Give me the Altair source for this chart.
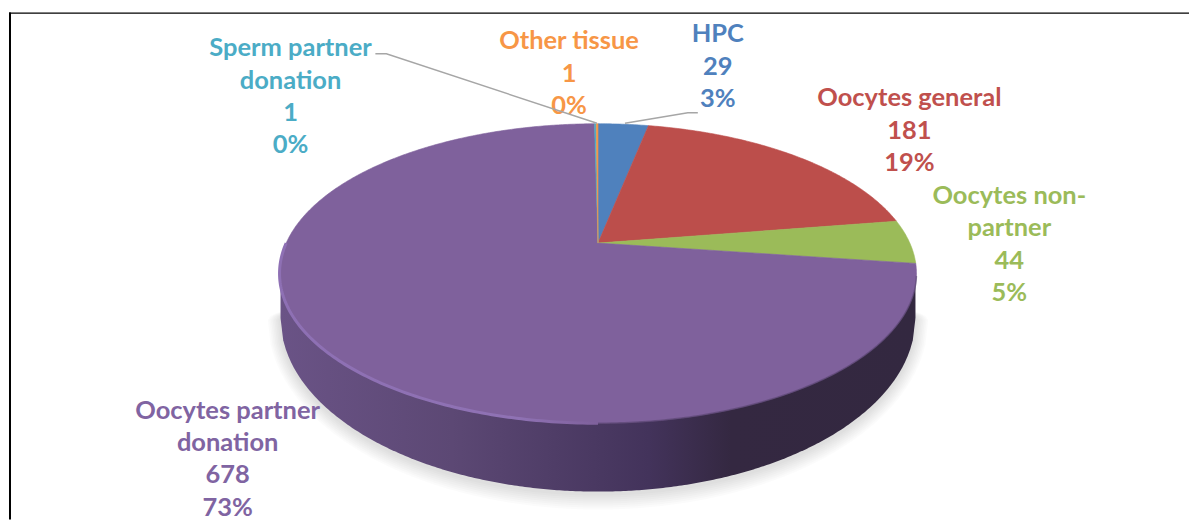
import numpy as np
import pandas as pd
import altair as alt

# ---- chart values
categories = ["HPC", "Oocytes general", "Oocytes non-partner", "Oocytes partner donation",
              "Sperm partner donation", "Other tissue"]
values = [29, 181, 44, 678, 1, 1]
slice_colors = ["#4F81BD", "#BC4E4B", "#9BBB59", "#7F619C", "#4BACC6", "#F79646"]
label_colors = ["#4F81BD", "#C0504D", "#9BBB59", "#8064A2", "#4BACC6", "#F79646"]
label_names = [["HPC"], ["Oocytes general"], ["Oocytes non-", "partner"],
               ["Oocytes partner", "donation"], ["Sperm partner", "donation"], ["Other tissue"]]

# ---- layout (in page pixels)
W, H, M = 1182, 512, 8
CX, CY, RX, RY, PERSP = 598.0, 273.5, 319.0, 150.0, 0.203
BY, BRX, BRY = 318.0, 318.0, 174.0
label_x = [718, 910, 1010, 227, 290, 569]
label_y = [34, 98, 196, 411, 48, 41]
LINE_H = 32.4
FONT = "Lato"
FONT_SIZE = 25.5

xs = alt.Scale(domain=[M, M + W], range=[0, W])
ys = alt.Scale(domain=[M, M + H], range=[0, H])
X = lambda f="x": alt.X(f"{f}:Q", scale=xs, axis=None)
Y = lambda f="y": alt.Y(f"{f}:Q", scale=ys, axis=None)
Y2 = lambda f="y2": alt.Y2(f"{f}:Q")


def project(turn):
    """Position on the tilted disc's rim for a clockwise fraction of a turn from the top."""
    a = 2 * np.pi * np.asarray(turn, dtype=float)
    u, v = np.sin(a), np.cos(a)
    w = 1 + PERSP * v
    return (CX + RX * u * np.sqrt(1 - PERSP ** 2) / w,
            CY - RY * (v + PERSP) / w)


total = sum(values)
edges = np.cumsum([0] + values) / total
apex = (CX, CY - RY * PERSP)

layers = []


def lens(cy, rx, ry, cap, n=240):
    x = np.linspace(CX - rx, CX + rx, n)
    s = np.sqrt(np.clip(1 - ((x - CX) / rx) ** 2, 0, 1))
    return pd.DataFrame({"x": x, "y": cy - cap * s, "y2": cy + ry * s})


# soft shadow under the disc
for grow in [2, 4, 6, 8, 10, 12, 14, 16]:
    layers.append(
        alt.Chart(lens(BY + 2, BRX + grow * 0.8, BRY + grow, 30))
        .mark_area(color="#000000", opacity=0.016)
        .encode(x=X(), y=Y(), y2=Y2())
    )

# disc wall
wall_fill = alt.Gradient(
    gradient="linear", x1=0, y1=0, x2=1, y2=0,
    stops=[
        alt.GradientStop(offset=0.0, color="#6A5386"),
        alt.GradientStop(offset=0.27, color="#5C4874"),
        alt.GradientStop(offset=0.58, color="#43335B"),
        alt.GradientStop(offset=0.71, color="#342841"),
        alt.GradientStop(offset=1.0, color="#332840"),
    ],
)
wall = lens(BY, BRX, BRY, 0)
wall["y"] = CY
layers.append(
    alt.Chart(wall).mark_area(fill=wall_fill)
    .encode(x=X(), y=Y(), y2=Y2())
)

# disc top: one wedge per category
for i, cat in enumerate(categories):
    t = np.linspace(edges[i], edges[i + 1], max(3, int(values[i] / total * 720)))
    px, py = project(t)
    d = pd.DataFrame({
        "x": np.r_[apex[0], px, apex[0]],
        "y": np.r_[apex[1], py, apex[1]],
        "i": np.arange(len(px) + 2),
        "category": cat,
    })
    layers.append(
        alt.Chart(d)
        .mark_line(fill=slice_colors[i], stroke=slice_colors[i], strokeWidth=0.6, interpolate="linear")
        .encode(x=X(), y=Y(), order=alt.Order("i:Q"))
    )

# lit rim along the purple wedge
t = np.linspace(0.5, 0.75, 120)
px, py = project(t)
rim = pd.DataFrame({"x": px, "y": py, "i": np.arange(len(px))})
rim_stroke = alt.Gradient(
    gradient="linear", x1=1, y1=0, x2=0, y2=0,
    stops=[
        alt.GradientStop(offset=0.0, color="#7F619C"),
        alt.GradientStop(offset=0.25, color="#8F72B4"),
        alt.GradientStop(offset=1.0, color="#8E70B4"),
    ],
)
layers.append(
    alt.Chart(rim).mark_line(stroke=rim_stroke, strokeWidth=3)
    .encode(x=X(), y=Y(), order=alt.Order("i:Q"))
)
t = np.linspace(0.285, 0.5, 120)
px, py = project(t)
rim2 = pd.DataFrame({"x": px, "y": py, "i": np.arange(len(px))})
layers.append(
    alt.Chart(rim2).mark_line(stroke="#5A4672", strokeWidth=1.5, opacity=0.6)
    .encode(x=X(), y=Y(), order=alt.Order("i:Q"))
)

# labels
rows = []
for i, cat in enumerate(categories):
    lines = label_names[i] + [str(values[i]), f"{round(values[i] / total * 100)}%"]
    for j, line in enumerate(lines):
        rows.append({"x": label_x[i], "y": label_y[i] + j * LINE_H, "text": line, "c": label_colors[i], "k": f"{i}-{j}"})
labels = pd.DataFrame(rows)
layers.append(
    alt.Chart(labels)
    .mark_text(font=FONT, fontSize=FONT_SIZE, fontWeight="bold", align="center", baseline="middle")
    .encode(x=X(), y=Y(), text="text:N", color=alt.Color("c:N", scale=None), detail="k:N")
)

# leader lines
leaders = pd.DataFrame({
    "x": [375, 386, 597, 698, 688, 625],
    "y": [53.5, 53.5, 123, 112.5, 112.5, 123],
    "g": [0, 0, 0, 1, 1, 1],
    "i": [0, 1, 2, 0, 1, 2],
})
layers.append(
    alt.Chart(leaders).mark_line(stroke="#A6A6A6", strokeWidth=1.5)
    .encode(x=X(), y=Y(), detail="g:N", order=alt.Order("i:Q"))
)

# frame around the picture
layers.append(alt.Chart(pd.DataFrame({"a": [0]})).mark_rule(stroke="#000000", strokeWidth=1.5)
              .encode(x=alt.value(0), x2=alt.value(W), y=alt.value(4.7)))
layers.append(alt.Chart(pd.DataFrame({"a": [0]})).mark_rule(stroke="#000000", strokeWidth=2)
              .encode(x=alt.value(1), y=alt.value(4), y2=alt.value(H)))

chart = (
    alt.layer(*layers)
    .properties(width=W, height=H, padding=0, background="#FFFFFF")
    .configure_view(stroke=None)
)
chart.save("out.html", embed_options={"renderer": "svg", "actions": False})
